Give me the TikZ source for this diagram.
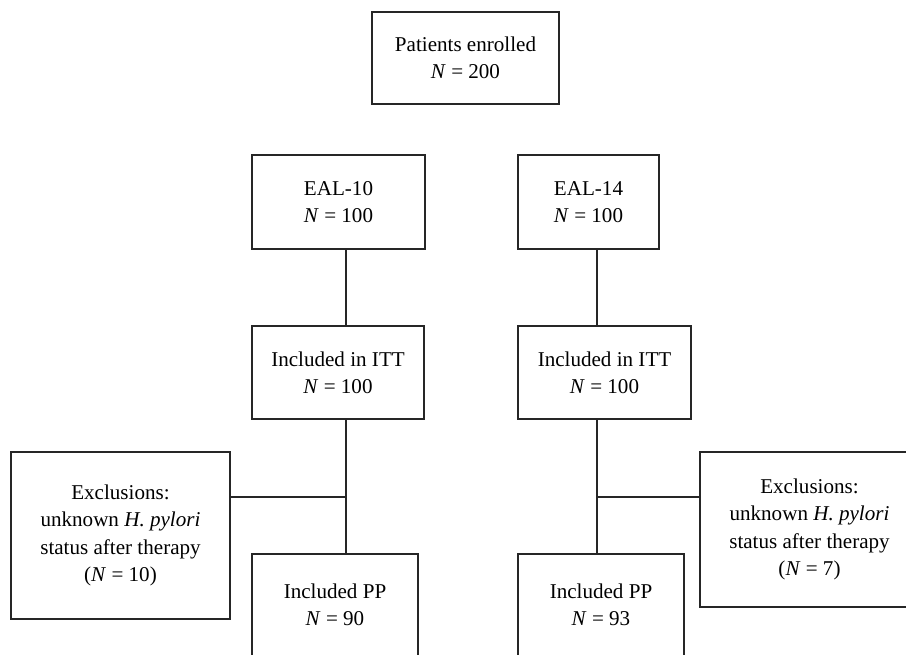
\documentclass[tikz,border=0pt]{standalone}
\usepackage{fontspec}
\setmainfont{Liberation Serif}
\usetikzlibrary{calc}

\tikzset{
  box/.style={draw=black!85, line width=0.8pt, align=center, inner sep=0pt,
    font=\fontsize{12}{15.5}\selectfont},
  link/.style={draw=black!85, line width=0.8pt}
}

\begin{document}
\begin{tikzpicture}[x=0.02cm,y=-0.02cm]
\useasboundingbox (0,0) rectangle (906,655);
\clip (0,0) rectangle (906,655);

% enrolment
\node[box, minimum width=3.74cm, minimum height=1.84cm] (enrolled) at (465.5,58) {Patients enrolled\\\textit{N} = 200};

% arms
\node[box, minimum width=3.46cm, minimum height=1.88cm] (eal10) at (338.5,202) {EAL-10\\\textit{N} = 100};
\node[box, minimum width=2.82cm, minimum height=1.88cm] (eal14) at (588.5,202) {EAL-14\\\textit{N} = 100};

\node[box, minimum width=3.44cm, minimum height=1.86cm] (itt10) at (338,372.5) {Included in ITT\\\textit{N} = 100};
\node[box, minimum width=3.46cm, minimum height=1.86cm] (itt14) at (604.5,372.5) {Included in ITT\\\textit{N} = 100};

% exclusions
\node[box, minimum width=4.38cm, minimum height=3.34cm] (excl10) at (120.5,535.5) {Exclusions:\\unknown \textit{H. pylori}\\status after therapy\\(\textit{N} = 10)};
\node[box, minimum width=4.38cm, minimum height=3.10cm] (excl14) at (809.5,529.5) {Exclusions:\\unknown \textit{H. pylori}\\status after therapy\\(\textit{N} = 7)};

% per protocol
\node[box, minimum width=3.32cm, minimum height=2.04cm] (pp10) at (335,605) {Included PP\\\textit{N} = 90};
\node[box, minimum width=3.32cm, minimum height=2.04cm] (pp14) at (601,605) {Included PP\\\textit{N} = 93};

\coordinate (j10) at (346,497);
\coordinate (j14) at (597,497);

\draw[link] (eal10.south -| j10) -- (itt10.north -| j10);
\draw[link] (itt10.south -| j10) -- (pp10.north -| j10);
\draw[link] (excl10.east |- j10) -- (j10);

\draw[link] (eal14.south -| j14) -- (itt14.north -| j14);
\draw[link] (itt14.south -| j14) -- (pp14.north -| j14);
\draw[link] (j14) -- (excl14.west |- j14);
\end{tikzpicture}
\end{document}
